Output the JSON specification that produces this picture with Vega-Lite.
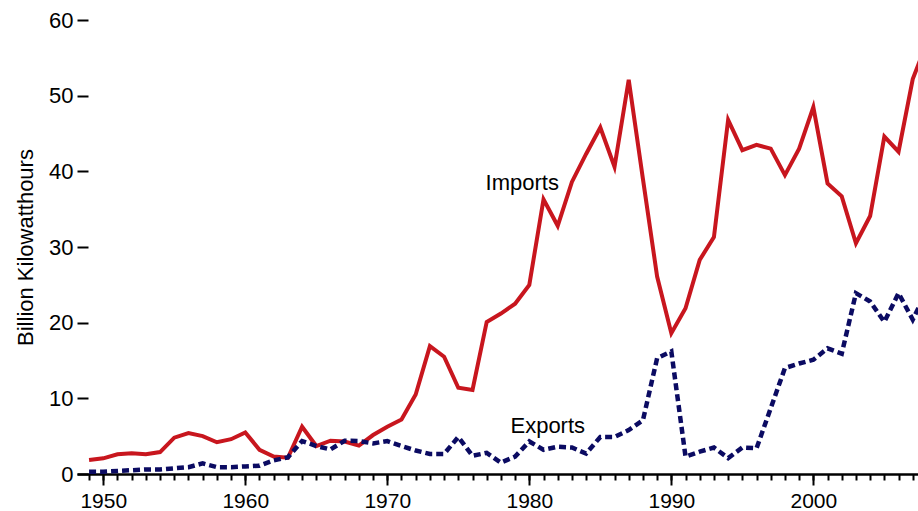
{
  "$schema": "https://vega.github.io/schema/vega-lite/v6.json",
  "autosize": {"type": "none"},
  "width": 841,
  "height": 454,
  "padding": {"left": 77, "top": 20, "right": 0, "bottom": 37},
  "background": "white",
  "config": {
    "view": {"stroke": null},
    "font": "Liberation Sans",
    "axis": {"labelFont": "Liberation Sans", "titleFont": "Liberation Sans", "labelColor": "black", "titleColor": "black", "tickColor": "black", "domainColor": "black", "grid": false}
  },
  "datasets": {
    "series": [
      {"year": 1949, "series": "Imports", "value": 1.85},
      {"year": 1950, "series": "Imports", "value": 2.07},
      {"year": 1951, "series": "Imports", "value": 2.6},
      {"year": 1952, "series": "Imports", "value": 2.73},
      {"year": 1953, "series": "Imports", "value": 2.6},
      {"year": 1954, "series": "Imports", "value": 2.9},
      {"year": 1955, "series": "Imports", "value": 4.8},
      {"year": 1956, "series": "Imports", "value": 5.4},
      {"year": 1957, "series": "Imports", "value": 5.0},
      {"year": 1958, "series": "Imports", "value": 4.2},
      {"year": 1959, "series": "Imports", "value": 4.6},
      {"year": 1960, "series": "Imports", "value": 5.5},
      {"year": 1961, "series": "Imports", "value": 3.2},
      {"year": 1962, "series": "Imports", "value": 2.3},
      {"year": 1963, "series": "Imports", "value": 2.15},
      {"year": 1964, "series": "Imports", "value": 6.25},
      {"year": 1965, "series": "Imports", "value": 3.7},
      {"year": 1966, "series": "Imports", "value": 4.4},
      {"year": 1967, "series": "Imports", "value": 4.3},
      {"year": 1968, "series": "Imports", "value": 3.75},
      {"year": 1969, "series": "Imports", "value": 5.15},
      {"year": 1970, "series": "Imports", "value": 6.25},
      {"year": 1971, "series": "Imports", "value": 7.2},
      {"year": 1972, "series": "Imports", "value": 10.5},
      {"year": 1973, "series": "Imports", "value": 16.9},
      {"year": 1974, "series": "Imports", "value": 15.5},
      {"year": 1975, "series": "Imports", "value": 11.4},
      {"year": 1976, "series": "Imports", "value": 11.1},
      {"year": 1977, "series": "Imports", "value": 20.1},
      {"year": 1978, "series": "Imports", "value": 21.2},
      {"year": 1979, "series": "Imports", "value": 22.5},
      {"year": 1980, "series": "Imports", "value": 25.0},
      {"year": 1981, "series": "Imports", "value": 36.3},
      {"year": 1982, "series": "Imports", "value": 32.8},
      {"year": 1983, "series": "Imports", "value": 38.6},
      {"year": 1984, "series": "Imports", "value": 42.3},
      {"year": 1985, "series": "Imports", "value": 45.8},
      {"year": 1986, "series": "Imports", "value": 40.6},
      {"year": 1987, "series": "Imports", "value": 52.1},
      {"year": 1988, "series": "Imports", "value": 39.0},
      {"year": 1989, "series": "Imports", "value": 26.1},
      {"year": 1990, "series": "Imports", "value": 18.6},
      {"year": 1991, "series": "Imports", "value": 21.9},
      {"year": 1992, "series": "Imports", "value": 28.3},
      {"year": 1993, "series": "Imports", "value": 31.3},
      {"year": 1994, "series": "Imports", "value": 46.8},
      {"year": 1995, "series": "Imports", "value": 42.8},
      {"year": 1996, "series": "Imports", "value": 43.5},
      {"year": 1997, "series": "Imports", "value": 43.0},
      {"year": 1998, "series": "Imports", "value": 39.5},
      {"year": 1999, "series": "Imports", "value": 43.0},
      {"year": 2000, "series": "Imports", "value": 48.5},
      {"year": 2001, "series": "Imports", "value": 38.4},
      {"year": 2002, "series": "Imports", "value": 36.7},
      {"year": 2003, "series": "Imports", "value": 30.5},
      {"year": 2004, "series": "Imports", "value": 34.1},
      {"year": 2005, "series": "Imports", "value": 44.6},
      {"year": 2006, "series": "Imports", "value": 42.6},
      {"year": 2007, "series": "Imports", "value": 52.2},
      {"year": 2008, "series": "Imports", "value": 57.0},
      {"year": 1949, "series": "Exports", "value": 0.3},
      {"year": 1950, "series": "Exports", "value": 0.3},
      {"year": 1951, "series": "Exports", "value": 0.4},
      {"year": 1952, "series": "Exports", "value": 0.5},
      {"year": 1953, "series": "Exports", "value": 0.6},
      {"year": 1954, "series": "Exports", "value": 0.6},
      {"year": 1955, "series": "Exports", "value": 0.75},
      {"year": 1956, "series": "Exports", "value": 0.9},
      {"year": 1957, "series": "Exports", "value": 1.4},
      {"year": 1958, "series": "Exports", "value": 0.9},
      {"year": 1959, "series": "Exports", "value": 0.9},
      {"year": 1960, "series": "Exports", "value": 1.0},
      {"year": 1961, "series": "Exports", "value": 1.1},
      {"year": 1962, "series": "Exports", "value": 1.8},
      {"year": 1963, "series": "Exports", "value": 2.2},
      {"year": 1964, "series": "Exports", "value": 4.35},
      {"year": 1965, "series": "Exports", "value": 3.7},
      {"year": 1966, "series": "Exports", "value": 3.25},
      {"year": 1967, "series": "Exports", "value": 4.4},
      {"year": 1968, "series": "Exports", "value": 4.35},
      {"year": 1969, "series": "Exports", "value": 4.05},
      {"year": 1970, "series": "Exports", "value": 4.35},
      {"year": 1971, "series": "Exports", "value": 3.7},
      {"year": 1972, "series": "Exports", "value": 3.1},
      {"year": 1973, "series": "Exports", "value": 2.65},
      {"year": 1974, "series": "Exports", "value": 2.65},
      {"year": 1975, "series": "Exports", "value": 4.9},
      {"year": 1976, "series": "Exports", "value": 2.4},
      {"year": 1977, "series": "Exports", "value": 2.8},
      {"year": 1978, "series": "Exports", "value": 1.5},
      {"year": 1979, "series": "Exports", "value": 2.3},
      {"year": 1980, "series": "Exports", "value": 4.3},
      {"year": 1981, "series": "Exports", "value": 3.2},
      {"year": 1982, "series": "Exports", "value": 3.6},
      {"year": 1983, "series": "Exports", "value": 3.5},
      {"year": 1984, "series": "Exports", "value": 2.7},
      {"year": 1985, "series": "Exports", "value": 4.9},
      {"year": 1986, "series": "Exports", "value": 4.9},
      {"year": 1987, "series": "Exports", "value": 5.8},
      {"year": 1988, "series": "Exports", "value": 7.1},
      {"year": 1989, "series": "Exports", "value": 15.3},
      {"year": 1990, "series": "Exports", "value": 16.2},
      {"year": 1991, "series": "Exports", "value": 2.3},
      {"year": 1992, "series": "Exports", "value": 2.95},
      {"year": 1993, "series": "Exports", "value": 3.5},
      {"year": 1994, "series": "Exports", "value": 2.1},
      {"year": 1995, "series": "Exports", "value": 3.5},
      {"year": 1996, "series": "Exports", "value": 3.4},
      {"year": 1997, "series": "Exports", "value": 8.7},
      {"year": 1998, "series": "Exports", "value": 14.0},
      {"year": 1999, "series": "Exports", "value": 14.6},
      {"year": 2000, "series": "Exports", "value": 15.1},
      {"year": 2001, "series": "Exports", "value": 16.6},
      {"year": 2002, "series": "Exports", "value": 15.9},
      {"year": 2003, "series": "Exports", "value": 23.9},
      {"year": 2004, "series": "Exports", "value": 22.8},
      {"year": 2005, "series": "Exports", "value": 20.1},
      {"year": 2006, "series": "Exports", "value": 23.9},
      {"year": 2007, "series": "Exports", "value": 20.4},
      {"year": 2008, "series": "Exports", "value": 24.2}
    ],
    "labels": [
      {"label": "Imports", "year": 1979.5, "value": 37.5},
      {"label": "Exports", "year": 1981.3, "value": 5.4}
    ]
  },
  "layer": [
    {
      "data": {"name": "series"},
      "transform": [{"filter": "datum.series === 'Imports'"}],
      "mark": {"type": "line", "clip": true, "color": "#c8161e", "strokeWidth": 4, "strokeJoin": "miter"},
      "encoding": {
        "x": {"field": "year", "type": "quantitative", "scale": {"domain": [1948.15, 2007.37], "nice": false, "zero": false},
          "axis": {"orient": "bottom", "values": [1949,1950,1951,1952,1953,1954,1955,1956,1957,1958,1959,1960,1961,1962,1963,1964,1965,1966,1967,1968,1969,1970,1971,1972,1973,1974,1975,1976,1977,1978,1979,1980,1981,1982,1983,1984,1985,1986,1987,1988,1989,1990,1991,1992,1993,1994,1995,1996,1997,1998,1999,2000,2001,2002,2003,2004,2005,2006,2007], "labels": false, "title": null, "tickSize": 6, "tickWidth": 2, "domainWidth": 2.5, "grid": false}},
        "y": {"field": "value", "type": "quantitative", "scale": {"domain": [0, 60], "nice": false},
          "axis": {"values": [0,10,20,30,40,50,60], "domain": false, "tickSize": -11, "tickWidth": 2, "labelFontSize": 22, "labelPadding": 15, "title": "Billion Kilowatthours", "titleFontSize": 22, "titleFontWeight": "normal", "titlePadding": 11}}
      }
    },
    {
      "data": {"name": "series"},
      "transform": [{"filter": "datum.series === 'Exports'"}],
      "mark": {"type": "line", "clip": true, "color": "#0b0b62", "strokeWidth": 4.5, "strokeDash": [7, 4]},
      "encoding": {
        "x": {"field": "year", "type": "quantitative", "axis": null},
        "y": {"field": "value", "type": "quantitative",
          "axis": {"values": [0,10,20,30,40,50,60], "domain": false, "tickSize": -11, "tickWidth": 2, "labelFontSize": 22, "labelPadding": 15, "title": "Billion Kilowatthours", "titleFontSize": 22, "titleFontWeight": "normal", "titlePadding": 11}}
      }
    },
    {
      "data": {"name": "labels"},
      "mark": {"type": "text", "fontSize": 22, "color": "black", "align": "center", "baseline": "alphabetic", "font": "Liberation Sans"},
      "encoding": {
        "x": {"field": "year", "type": "quantitative",
          "axis": {"orient": "bottom", "values": [1950,1960,1970,1980,1990,2000], "format": "d", "domain": false, "tickSize": 11, "tickWidth": 2, "labelFontSize": 21, "labelPadding": 5, "title": null, "grid": false}},
        "y": {"field": "value", "type": "quantitative",
          "axis": {"values": [0,10,20,30,40,50,60], "domain": false, "tickSize": -11, "tickWidth": 2, "labelFontSize": 22, "labelPadding": 15, "title": "Billion Kilowatthours", "titleFontSize": 22, "titleFontWeight": "normal", "titlePadding": 11}},
        "text": {"field": "label", "type": "nominal"}
      }
    }
  ],
  "resolve": {"axis": {"x": "independent"}}
}
